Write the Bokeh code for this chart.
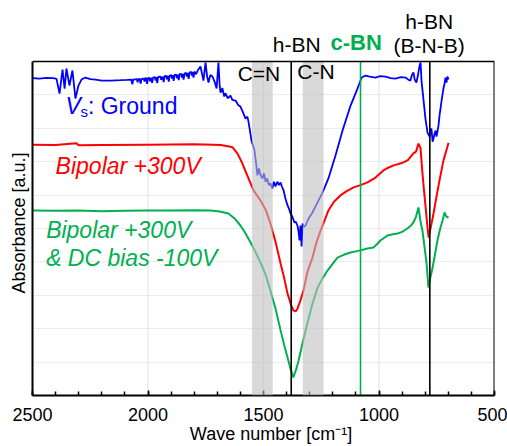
from bokeh.plotting import figure
from bokeh.models import Range1d, Span, BoxAnnotation, Label, SingleIntervalTicker, FixedTicker
from bokeh.embed import file_html
from bokeh.resources import INLINE

# ---------------- data ----------------
ground_wn = [2500, 2470, 2440, 2410, 2396, 2383, 2370, 2361, 2353, 2340, 2327, 2314, 2301, 2288,
             2271, 2250, 2227, 2200, 2160, 2120, 2090, 2072, 2068, 2064, 2048, 2045, 2042, 2036,
             2032, 2028, 2018, 2015, 2012, 2008, 2004, 2000, 1994, 1991, 1986, 1982, 1978, 1970,
             1967, 1964, 1960, 1956, 1946, 1943, 1936, 1932, 1928, 1921, 1918, 1914, 1910, 1906,
             1899, 1896, 1893, 1889, 1885, 1878, 1875, 1871, 1867, 1863, 1856, 1853, 1850, 1846,
             1842, 1835, 1832, 1828, 1824, 1820, 1813, 1810, 1807, 1803, 1799, 1792, 1785, 1773,
             1765, 1760, 1751, 1744, 1738, 1730, 1721, 1712, 1703, 1695, 1690, 1686, 1678, 1670,
             1665, 1655, 1643, 1635, 1621, 1610, 1600, 1590, 1578, 1570, 1565, 1558, 1552, 1546,
             1539, 1533, 1526, 1520, 1513, 1505, 1498, 1491, 1484, 1477, 1470, 1462, 1455, 1448,
             1440, 1433, 1426, 1420, 1413, 1405, 1396, 1390, 1383, 1375, 1366, 1360, 1353, 1348,
             1344, 1340, 1335, 1331, 1325, 1318, 1305, 1288, 1266, 1244, 1219, 1188, 1158, 1123,
             1093, 1075, 1058, 1040, 1015, 995, 972, 950, 929, 905, 885, 872, 864, 857, 851, 845,
             838, 831, 825, 820, 816, 807, 799, 790, 781, 777, 773, 768, 764, 759, 755, 751, 747,
             742, 738, 729, 721, 716, 712, 708, 704, 699]
ground_abs = [9.50, 9.49, 9.51, 9.50, 9.48, 9.04, 9.76, 9.19, 9.79, 9.28, 9.73, 8.89, 9.28, 9.46,
              9.52, 9.47, 9.46, 9.43, 9.43, 9.44, 9.45, 9.46, 9.32, 9.46, 9.47, 9.38, 9.47, 9.48,
              9.34, 9.48, 9.49, 9.40, 9.50, 9.50, 9.33, 9.50, 9.51, 9.41, 9.51, 9.36, 9.52, 9.53,
              9.43, 9.53, 9.35, 9.54, 9.55, 9.45, 9.55, 9.38, 9.56, 9.57, 9.47, 9.57, 9.40, 9.58,
              9.59, 9.49, 9.59, 9.42, 9.60, 9.61, 9.50, 9.61, 9.44, 9.62, 9.63, 9.52, 9.63, 9.46,
              9.64, 9.66, 9.55, 9.66, 9.48, 9.67, 9.69, 9.58, 9.69, 9.52, 9.70, 9.62, 9.73, 9.85,
              9.60, 9.43, 9.97, 9.55, 9.37, 9.60, 9.55, 9.40, 9.19, 9.97, 9.30, 9.07, 9.20, 8.95,
              9.05, 8.90, 8.98, 8.85, 8.83, 8.70, 8.65, 8.50, 8.29, 8.35, 8.20, 7.90, 7.63, 7.50,
              7.34, 7.00, 6.59, 6.80, 6.60, 6.50, 6.65, 6.40, 6.50, 6.30, 6.35, 6.20, 6.40, 6.26,
              6.40, 6.30, 6.38, 6.25, 6.14, 5.90, 5.69, 5.60, 5.45, 5.35, 5.18, 5.20, 5.09, 4.90,
              4.64, 5.09, 4.46, 5.15, 5.05, 5.09, 5.30, 5.48, 5.78, 6.08, 6.50, 7.19, 7.93, 8.68,
              9.19, 9.52, 9.58, 9.55, 9.52, 9.56, 9.55, 9.50, 9.49, 9.53, 9.52, 9.45, 9.43, 9.60, 9.67, 9.45,
              9.37, 9.60, 9.85, 9.97, 9.43, 8.83, 8.29, 7.87, 7.75, 7.95, 7.99, 7.60, 7.69, 7.85, 7.93, 7.75, 7.90,
              8.10, 8.38, 8.83, 9.19, 9.35, 9.52, 9.37, 9.55, 9.46]

bipolar_wn = [2500, 2400, 2310, 2300, 2200, 2000, 1800, 1720, 1686, 1660, 1634, 1613, 1595, 1574,
              1543, 1513, 1490, 1470, 1448, 1426, 1410, 1396, 1380, 1370, 1360, 1353, 1340, 1327,
              1310, 1288, 1270, 1253, 1235, 1219, 1195, 1167, 1140, 1110, 1080, 1050, 1020, 981,
              960, 937, 915, 894, 875, 851, 840, 829, 820, 813, 806, 799, 790, 785, 780, 774, 764,
              750, 738, 721, 710, 699]
bipolar_abs = [7.51, 7.50, 7.55, 7.49, 7.50, 7.51, 7.52, 7.51, 7.50, 7.47, 7.43, 7.25, 7.00, 6.65,
               6.14, 5.84, 5.55, 5.15, 4.60, 3.95, 3.50, 3.05, 2.70, 2.54, 2.52, 2.60, 2.85, 3.14,
               3.70, 4.13, 4.60, 4.94, 5.25, 5.54, 5.80, 5.99, 6.12, 6.23, 6.30, 6.38, 6.50, 6.74,
               6.82, 6.89, 6.93, 6.98, 7.05, 7.25, 7.30, 7.54, 7.40, 6.74, 6.20, 5.69, 5.03, 4.73,
               4.90, 5.10, 5.45, 6.00, 6.44, 7.04, 7.30, 7.57]

dcbias_wn = [2500, 2400, 2300, 2200, 2100, 2000, 1900, 1800, 1729, 1690, 1652, 1625, 1600, 1580,
             1556, 1535, 1513, 1490, 1470, 1448, 1426, 1410, 1396, 1383, 1371, 1360, 1348, 1330,
             1310, 1290, 1266, 1245, 1223, 1200, 1180, 1150, 1123, 1090, 1050, 1024, 1010, 994,
             963, 940, 920, 900, 877, 860, 851, 840, 829, 820, 812, 803, 794, 786, 777, 768, 757,
             747, 735, 725, 716, 708, 699]
dcbias_abs = [5.54, 5.53, 5.54, 5.52, 5.53, 5.54, 5.54, 5.55, 5.54, 5.51, 5.45, 5.30, 5.09, 4.88,
              4.58, 4.30, 3.98, 3.60, 3.14, 2.60, 1.95, 1.50, 1.14, 0.80, 0.54, 0.75, 1.05, 1.60,
              2.16, 2.70, 3.23, 3.50, 3.74, 3.95, 4.13, 4.22, 4.28, 4.33, 4.40, 4.43, 4.52, 4.64,
              4.79, 4.83, 4.85, 4.90, 5.00, 5.10, 5.18, 5.35, 5.63, 5.20, 4.94, 4.45, 3.95, 3.23,
              3.55, 3.83, 4.25, 4.64, 5.00, 5.24, 5.48, 5.35, 5.33]

peak_lines = [1380, 1080, 780]           # h-BN, c-BN, h-BN (B-N-B)
peak_colors = ["black", "#00b050", "black"]
bands = [(1550, 1460), (1330, 1240)]     # C=N, C-N
x_grid = [2000, 1500, 1000]
y_grid = [1, 2, 3, 4, 5, 6, 7, 8, 9]
x_lo, x_hi = 2500, 500
y_lo, y_hi = 0, 10                       # plotted box

FONT = "Liberation Sans"
BLUE, RED, GREEN = "#0000ff", "#ff0000", "#00b050"
NBSP = "\u00a0"

# frame extends to the top of the picture so that the peak labels above the box can be drawn
p = figure(frame_width=462, frame_height=395, output_backend="svg", toolbar_location=None,
           x_range=Range1d(x_lo, x_hi), y_range=Range1d(y_lo, y_hi * 395 / 334),
           min_border_left=32, min_border_right=13, min_border_top=0, min_border_bottom=51,
           background_fill_color="white", border_fill_color="white")
p.outline_line_color = None

# grid
p.xgrid.visible = False
p.segment(x0=x_grid, y0=[y_lo] * len(x_grid), x1=x_grid, y1=[y_hi] * len(x_grid),
          line_color="#e6e6e6", line_width=1.2)
p.ygrid.ticker = FixedTicker(ticks=y_grid)
p.ygrid.grid_line_color = "#ececec"
p.ygrid.grid_line_width = 1.2

# x axis
p.xaxis.ticker = SingleIntervalTicker(interval=500, num_minor_ticks=5)
p.xaxis.major_tick_in = 5
p.xaxis.major_tick_out = 0
p.xaxis.minor_tick_in = 4
p.xaxis.minor_tick_out = 0
p.xaxis.major_tick_line_color = "black"
p.xaxis.minor_tick_line_color = "black"
p.xaxis.major_tick_line_width = 1.5
p.xaxis.minor_tick_line_width = 1.5
p.xaxis.axis_line_width = 2
p.xaxis.axis_line_color = "black"
p.xaxis.major_label_text_font = FONT
p.xaxis.major_label_text_font_size = "18px"
p.xaxis.major_label_text_color = "black"
p.xaxis.major_label_standoff = 12
# leading no-break spaces move the centred label slightly right, as in the reference
p.xaxis.axis_label = NBSP * 3 + "Wave number [cm\u207b\u00b9]"
p.xaxis.axis_label_text_font = FONT
p.xaxis.axis_label_text_font_size = "18px"
p.xaxis.axis_label_text_font_style = "normal"
p.xaxis.axis_label_text_color = "black"
p.xaxis.axis_label_standoff = 0

# y axis (no tick labels), limited to the box
p.yaxis.ticker = FixedTicker(ticks=[])
p.yaxis.bounds = (y_lo, y_hi)
p.yaxis.major_tick_in = 0
p.yaxis.major_tick_out = 0
p.yaxis.minor_tick_in = 0
p.yaxis.minor_tick_out = 0
p.yaxis.axis_line_width = 2
p.yaxis.axis_line_color = "black"
# trailing no-break spaces centre the label on the box rather than on the taller frame
p.yaxis.axis_label = "Absorbance [a.u.]" + NBSP * 10
p.yaxis.axis_label_text_font = FONT
p.yaxis.axis_label_text_font_size = "18px"
p.yaxis.axis_label_text_font_style = "normal"
p.yaxis.axis_label_text_color = "black"
p.yaxis.axis_label_standoff = 4

# curves
p.line(ground_wn, ground_abs, line_color=BLUE, line_width=1.8)
p.line(bipolar_wn, bipolar_abs, line_color=RED, line_width=2)
p.line(dcbias_wn, dcbias_abs, line_color=GREEN, line_width=2)

# shaded bands (drawn over the curves, semi-transparent)
for hi, lo in bands:
    p.add_layout(BoxAnnotation(left=lo, right=hi, bottom=y_lo, top=y_hi, fill_color="#bfbfbf",
                               fill_alpha=0.6, line_color=None))

# peak position lines
p.segment(x0=peak_lines, y0=[y_lo] * 3, x1=peak_lines, y1=[y_hi] * 3,
          line_color=peak_colors, line_width=1.6)

# box outline: top and right edges
p.add_layout(Span(location=y_hi, dimension="width", line_color="black", line_width=1.6))
p.segment(x0=[x_hi], y0=[y_lo], x1=[x_hi], y1=[y_hi], line_color="black", line_width=2)

def lab(x, y, text, size, color="black", style="normal", align="left"):
    p.add_layout(Label(x=x, y=y, text=text, text_font=FONT, text_font_size=size,
                       text_color=color, text_font_style=style, text_align=align,
                       text_baseline="alphabetic"))

# band / peak labels
lab(1612, 9.65, "C=N", "21px")
lab(1354, 9.71, "C-N", "21px")
lab(1356, 10.52, "h-BN", "21px", align="center")
lab(1099, 10.57, "c-BN", "22px", color=GREEN, style="bold", align="center")
lab(783, 10.49, "(B-N-B)", "21px", align="center")
lab(783, 11.19, "h-BN", "21px", align="center")

# curve labels
lab(2357, 8.67, "V", "23px", color=BLUE, style="italic")
lab(2292, 8.50, "s", "15px", color=BLUE)
lab(2260, 8.67, ": Ground", "23px", color=BLUE)
lab(2400, 6.88, "Bipolar +300V", "23px", color=RED, style="italic")
lab(2441, 4.95, "Bipolar +300V", "23px", color=GREEN, style="italic")
lab(2441, 4.11, "& DC bias -100V", "23px", color=GREEN, style="italic")

open("out.html", "w").write(file_html(p, INLINE))
